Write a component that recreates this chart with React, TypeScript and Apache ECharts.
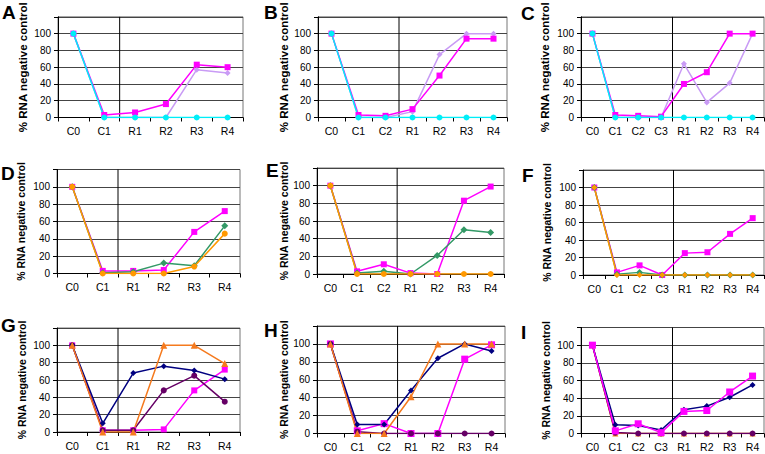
import React, { useEffect, useRef } from "react";
import * as echarts from "echarts";

// ---- categories ----
const catsA = ["C0", "C1", "R1", "R2", "R3", "R4"];
const catsB = ["C0", "C1", "C2", "R1", "R2", "R3", "R4"];
const catsC = ["C0", "C1", "C2", "C3", "R1", "R2", "R3", "R4"];
const yTicks = [0, 20, 40, 60, 80, 100];

// ---- panel A ----
const aMagenta = [100, 3, 6, 16, 63, 60];
const aLavender = [100, 0, 0, 0, 57, 53];
const aCyan = [100, 0, 0, 0, 0, 0];
// ---- panel B ----
const bMagenta = [100, 3, 2, 10, 50, 94, 94];
const bLavender = [100, 0, 0, 7, 75, 100, 100];
const bCyan = [100, 0, 0, 0, 0, 0, 0];
// ---- panel C ----
const cMagenta = [100, 3, 2, 1, 40, 54, 100, 100];
const cLavender = [100, 0, 0, 0, 64, 18, 41, 100];
const cCyan = [100, 0, 0, 0, 0, 0, 0, 0];
// ---- panel D ----
const dMagenta = [100, 3, 3, 4, 48, 72];
const dGreen = [100, 1, 2, 12, 9, 55];
const dOrange = [100, 0, 0, 0, 8, 46];
// ---- panel E ----
const eMagenta = [100, 3, 11, 1, 0, 83, 99];
const eGreen = [100, 1, 3, 0, 21, 50, 47];
const eOrange = [100, 0, 0, 0, 0, 0, 0];
// ---- panel F ----
const fMagenta = [100, 3, 11, 0, 25, 26, 47, 65];
const fGreen = [100, 1, 3, 0, 0, 0, 0, 0];
const fOrange = [100, 0, 0, 0, 0, 0, 0, 0];
// ---- panel G ----
const gNavy = [100, 10, 68, 76, 71, 61];
const gOrange = [100, 0, 0, 100, 100, 79];
const gPurple = [100, 2, 2, 48, 65, 35];
const gMagenta = [100, 2, 2, 3, 48, 72];
// ---- panel H ----
const hNavy = [100, 10, 10, 48, 84, 100, 92];
const hOrange = [100, 0, 0, 41, 100, 100, 100];
const hPurple = [100, 2, 0, 0, 0, 0, 0];
const hMagenta = [100, 3, 11, 0, 0, 83, 99];
// ---- panel I ----
const iOrange = [100, 0, 0, 0, 0, 0, 0, 0];
const iPurple = [100, 1, 0, 0, 0, 0, 0, 0];
const iNavy = [100, 10, 9, 4, 27, 31, 41, 55];
const iMagenta = [100, 3, 11, 1, 25, 26, 47, 65];

const letters = ["A", "B", "C", "D", "E", "F", "G", "H", "I"];
const yName = "% RNA negative control";
const splitCategory = "R1";
const yMin = 0;
const yMax = 120;

// ---- styles ----
const MAGENTA = "#FF00FF";
const LAVENDER = "#C99BF5";
const CYAN = "#00EEF8";
const GREEN = "#339966";
const ORANGE = "#FF9900";
const ORANGE2 = "#F57A1E";
const NAVY = "#000080";
const PURPLE = "#660066";
const FONT = "Liberation Sans, Arial, Helvetica, sans-serif";

type S = { data: number[]; color: string; symbol: string; size: number };
const s = (data: number[], color: string, symbol: string, size: number): S => ({ data, color, symbol, size });

const panels: { cats: string[]; series: S[] }[] = [
  { cats: catsA, series: [s(aLavender, LAVENDER, "diamond", 6), s(aMagenta, MAGENTA, "rect", 6), s(aCyan, CYAN, "circle", 6)] },
  { cats: catsB, series: [s(bLavender, LAVENDER, "diamond", 6), s(bMagenta, MAGENTA, "rect", 6), s(bCyan, CYAN, "circle", 6)] },
  { cats: catsC, series: [s(cLavender, LAVENDER, "diamond", 6), s(cMagenta, MAGENTA, "rect", 6), s(cCyan, CYAN, "circle", 6)] },
  { cats: catsA, series: [s(dMagenta, MAGENTA, "rect", 6), s(dGreen, GREEN, "diamond", 7), s(dOrange, ORANGE, "circle", 6)] },
  { cats: catsB, series: [s(eMagenta, MAGENTA, "rect", 6), s(eGreen, GREEN, "diamond", 7), s(eOrange, ORANGE, "circle", 6)] },
  { cats: catsC, series: [s(fMagenta, MAGENTA, "rect", 6), s(fGreen, GREEN, "diamond", 7), s(fOrange, ORANGE, "diamond", 6)] },
  { cats: catsA, series: [s(gMagenta, MAGENTA, "rect", 6), s(gPurple, PURPLE, "circle", 6), s(gNavy, NAVY, "diamond", 6), s(gOrange, ORANGE2, "triangle", 7)] },
  { cats: catsB, series: [s(hMagenta, MAGENTA, "rect", 7), s(hPurple, PURPLE, "circle", 6), s(hNavy, NAVY, "diamond", 6), s(hOrange, ORANGE2, "triangle", 7)] },
  { cats: catsC, series: [s(iOrange, ORANGE2, "triangle", 6), s(iPurple, PURPLE, "circle", 6), s(iNavy, NAVY, "diamond", 6), s(iMagenta, MAGENTA, "rect", 7)] },
];

// ---- layout (px) ----
const layout = [
  { left: 58, top: 7.5, width: 185, height: 110, lx: 2, ly: 3, gap: 29 },
  { left: 318, top: 7.5, width: 189, height: 110, lx: 264, ly: 3, gap: 27 },
  { left: 581, top: 7.5, width: 183, height: 110, lx: 521, ly: 4, gap: 30 },
  { left: 57, top: 169.5, width: 183, height: 104, lx: 1, ly: 164, gap: 31 },
  { left: 317, top: 168, width: 187, height: 106, lx: 266, ly: 161, gap: 25 },
  { left: 583, top: 170, width: 181, height: 105, lx: 522, ly: 166, gap: 31 },
  { left: 57, top: 328, width: 183, height: 104, lx: 1, ly: 316, gap: 30 },
  { left: 317, top: 326, width: 188, height: 107.5, lx: 264, ly: 321, gap: 25 },
  { left: 581, top: 327.5, width: 183, height: 106, lx: 521, ly: 323, gap: 30 },
];

export default function App() {
  const ref = useRef<HTMLDivElement>(null);
  useEffect(() => {
    if (!ref.current) return;
    const chart = echarts.init(ref.current, undefined, { renderer: "svg" });
    const n = panels.length;
    const series: any[] = [];
    panels.forEach((p, i) => {
      // separator between control and rescue phases (category boundary)
      const k = p.cats.indexOf(splitCategory);
      series.push({
        type: "line",
        xAxisIndex: n + i,
        yAxisIndex: i,
        data: [
          [k, yMin],
          [k, yMax],
        ],
        showSymbol: false,
        symbol: "none",
        lineStyle: { color: "#000", width: 1 },
        emphasis: { disabled: true },
        silent: true,
        z: 1,
      });
      p.series.forEach((ss) => {
        series.push({
          type: "line",
          xAxisIndex: i,
          yAxisIndex: i,
          data: ss.data,
          symbol: ss.symbol,
          symbolSize: ss.size,
          showSymbol: true,
          lineStyle: { color: ss.color, width: 1.5 },
          itemStyle: { color: ss.color },
          emphasis: { disabled: true },
          silent: true,
          z: 3,
        });
      });
    });
    const catAxes = panels.map((p, i) => ({
      type: "category",
      gridIndex: i,
      data: p.cats,
      boundaryGap: true,
      axisLine: { lineStyle: { color: "#000", width: 1 } },
      axisTick: { show: true, interval: 0, length: 4, lineStyle: { color: "#000" } },
      axisLabel: { interval: 0, fontSize: 10.5, margin: 8, color: "#000", fontFamily: FONT },
      splitLine: { show: false },
    }));
    const bandAxes = panels.map((p, i) => ({
      type: "value",
      gridIndex: i,
      min: 0,
      max: p.cats.length,
      show: false,
      position: "top",
      splitLine: { show: false },
    }));
    chart.setOption({
      animation: false,
      backgroundColor: "#ffffff",
      textStyle: { fontFamily: FONT },
      title: layout.map((l, i) => ({
        text: letters[i],
        left: l.lx,
        top: l.ly,
        padding: 0,
        textStyle: { fontSize: 19, fontWeight: "bold", color: "#000", fontFamily: FONT },
      })),
      grid: layout.map((l) => ({
        left: l.left,
        top: l.top,
        width: l.width,
        height: l.height,
        show: true,
        borderColor: "#777",
        borderWidth: 1,
        backgroundColor: "transparent",
      })),
      xAxis: [...catAxes, ...bandAxes],
      yAxis: panels.map((_p, i) => ({
        type: "value",
        gridIndex: i,
        min: yMin,
        max: yMax,
        interval: 20,
        name: yName,
        nameLocation: "middle",
        nameGap: layout[i].gap,
        nameTextStyle: { fontSize: i < 3 ? 11.5 : 10.5, fontWeight: "bold", color: "#000", fontFamily: FONT },
        axisLine: { show: true, lineStyle: { color: "#000", width: 1 } },
        axisTick: { show: true, length: 4, lineStyle: { color: "#000" } },
        axisLabel: {
          fontSize: 10,
          margin: 7,
          color: "#000",
          fontFamily: FONT,
          formatter: (v: number) => (yTicks.indexOf(v) >= 0 ? String(v) : ""),
        },
        splitLine: { show: true, lineStyle: { color: "#444", width: 1 } },
      })),
      series,
    });
    return () => chart.dispose();
  }, []);
  return (
    <div
      ref={ref}
      style={{ position: "fixed", left: 0, top: 0, width: 765, height: 454, background: "#fff" }}
    />
  );
}
